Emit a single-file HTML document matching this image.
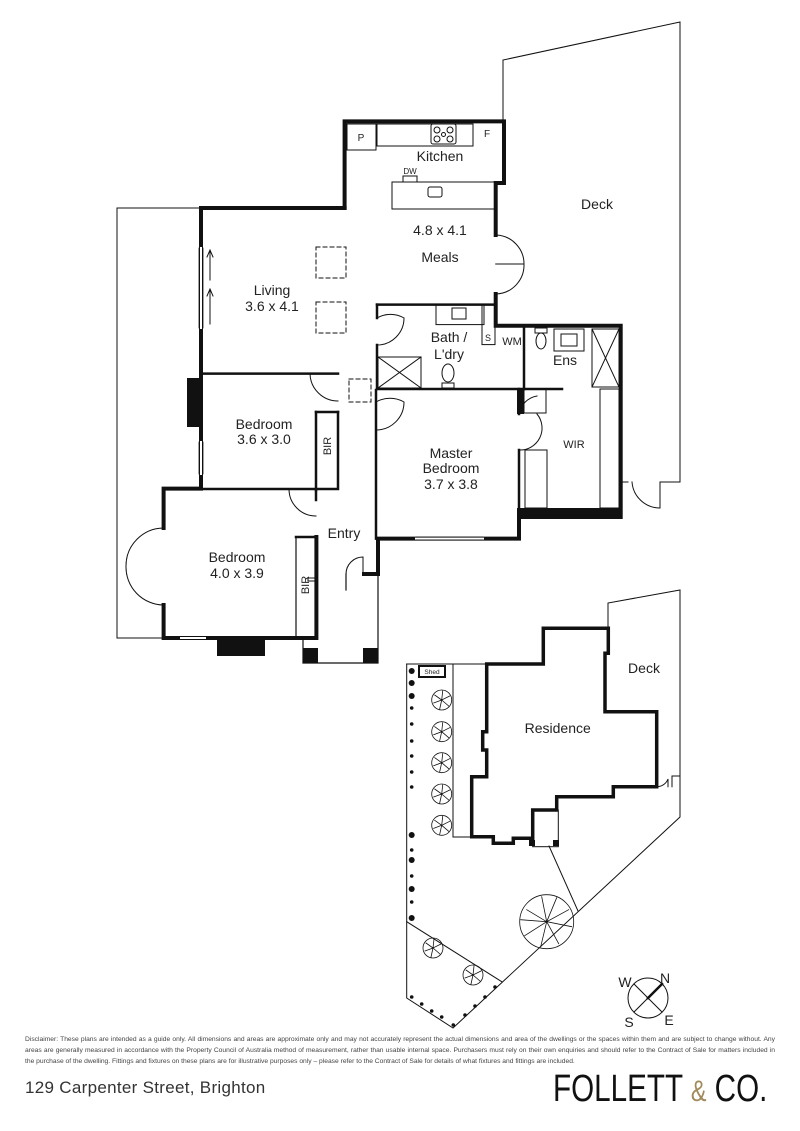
<!DOCTYPE html>
<html><head><meta charset="utf-8"><style>
body{margin:0;background:#fff;width:800px;height:1131px;overflow:hidden}
svg{position:absolute;left:0;top:0}
text{font-family:"Liberation Sans",sans-serif;fill:#222}
.disc{position:absolute;left:25px;top:1034px;width:750px;font:6.7px/11px "Liberation Sans",sans-serif;color:#444;text-align:justify;text-align-last:left}
.addr{position:absolute;left:25px;top:1078px;font:17px "Liberation Sans",sans-serif;color:#333;letter-spacing:0.3px;white-space:nowrap}
.logo{position:absolute;left:553px;top:1068px;font:38px "Liberation Sans Narrow","Liberation Sans",sans-serif;color:#111;white-space:nowrap;transform:scaleX(0.78);transform-origin:left}
.logo span{color:#a08a5a;font-size:30px}
</style></head><body>
<svg width="800" height="1131" viewBox="0 0 800 1131">
<g fill="none" stroke="#111" stroke-linecap="square">
<polyline stroke-width="1" points="503,121 503,60 680,22 680,482 660,482"/>
<path stroke-width="1" d="M660,482 V508 A28,28 0 0 1 632,482 M620,482 H628"/>
<polyline stroke-width="1" points="201,208 117,208 117,638 163,638"/>
<g stroke-width="4">
<polyline points="344.6,208 344.6,121.4 504,121.4 504,183 495.7,183 495.7,235"/>
<polyline points="495.7,294 495.7,325.7 620.7,325.7 620.7,517 519,517 519,538.6 378,538.6 378,574 364,574"/>
<polyline points="344.6,208 201,208 201,488.6 163.6,488.6 163.6,528"/>
<polyline points="163.6,605 163.6,638 316.4,638 316.4,537"/>
</g>
<g stroke="#fff" stroke-width="2"><line x1="201" y1="248" x2="201" y2="328"/><line x1="201" y1="442" x2="201" y2="474"/><line x1="416" y1="538.6" x2="483" y2="538.6"/><line x1="181" y1="638" x2="205" y2="638"/></g>
<g stroke-width="0.8"><line x1="199" y1="248" x2="199" y2="328"/><line x1="203" y1="248" x2="203" y2="328"/><line x1="199" y1="442" x2="199" y2="474"/><line x1="203" y1="442" x2="203" y2="474"/><line x1="416" y1="537" x2="483" y2="537"/><line x1="416" y1="540" x2="483" y2="540"/><line x1="181" y1="636.5" x2="205" y2="636.5"/><line x1="181" y1="639.5" x2="205" y2="639.5"/></g>
<g stroke-width="2.5">
<polyline points="201,373.6 338,373.6"/>
<polyline points="201,489 338,489 338,412"/>
<polyline points="316,412 316,490"/>
<polyline points="338,412 316,412"/>
<polyline points="376,390 376,538.6"/>
<polyline points="377,304.6 496,304.6"/>
<polyline points="377,304.6 377,318"/>
<polyline points="377,345 377,389 562,389"/>
<polyline points="524,326 524,389"/>
<polyline points="519,389 519,414"/>
<polyline points="519,450 519,518"/>
<polyline points="316,537 316,590"/>
<polyline points="296,537 316,537"/>
<polyline points="316,500 316,490"/>
</g>
<g stroke-width="1.2">
<polyline points="296,537 296,638"/>
<polyline points="303,638 303,663 378,663 378,574"/>
<polyline points="346,574 346,590"/>
</g>
<g fill="#111" stroke="none">
<rect x="187" y="378" width="14" height="49"/><rect x="217" y="638" width="48" height="18"/>
<rect x="303" y="648" width="15" height="15"/><rect x="363" y="648" width="15" height="15"/>
<rect x="517" y="389" width="7" height="25"/><rect x="517" y="508" width="104" height="10"/>
</g>
<g stroke-width="1">
<path d="M495.7,235 A29,29 0 0 1 524,264 A29,29 0 0 1 495.7,294"/>
<path d="M495.7,264 H524"/>
<path d="M377,318 A27,27 0 0 1 404,318 M377,345 A27,27 0 0 0 404,318"/>
<path d="M310,373.6 A28,28 0 0 0 338,401"/>
<path d="M376,402 A28,28 0 0 1 404,402 A28,28 0 0 1 376,430"/>
<path d="M289,489 A27,27 0 0 0 316,516"/>
<path d="M163.6,528 A38,38 0 0 0 126,566 A38,38 0 0 0 163.6,605"/>
<path d="M346,574 A17,17 0 0 1 363,557 V574"/>
<path d="M519,414 A22,22 0 0 1 537,396 M519,450 A22,22 0 0 0 537,414"/>
<path d="M316,578 h-8 v3 h8"/>
</g>
<g stroke-width="1">
<rect x="347" y="124" width="29" height="26"/>
<rect x="377" y="124" width="96" height="22"/>
<rect x="431" y="124" width="25" height="20" rx="2"/>
<circle cx="437" cy="130" r="3"/><circle cx="450" cy="130" r="3"/><circle cx="437" cy="139" r="3"/><circle cx="450" cy="139" r="3"/><circle cx="443.5" cy="134.5" r="2"/>
<rect x="392" y="182" width="104" height="27"/>
<rect x="403" y="176" width="14" height="6"/>
<rect x="428" y="187" width="14" height="10" rx="2"/>
<rect x="436" y="304.6" width="48" height="20"/>
<rect x="452" y="308" width="14" height="11"/>
<rect x="482" y="304.6" width="13" height="40"/>
<rect x="378" y="357" width="43" height="31"/>
<path d="M378,357 L421,388 M421,357 L378,388"/>
<ellipse cx="448" cy="373" rx="6" ry="9"/><rect x="442" y="383" width="12" height="5"/>
<ellipse cx="541" cy="341" rx="5" ry="8"/><rect x="535" y="328" width="12" height="5"/>
<rect x="554" y="329" width="30" height="22"/><rect x="561" y="334" width="16" height="12"/>
<rect x="592" y="329" width="27" height="58"/><path d="M592,329 L619,387 M619,329 L592,387"/>
<rect x="524" y="389" width="22" height="24"/>
<rect x="525" y="450" width="22" height="58"/>
<rect x="600" y="389" width="19" height="119"/>
<g stroke-dasharray="4,3"><rect x="316" y="247" width="30" height="31"/><rect x="316" y="302" width="30" height="31"/><rect x="349" y="379" width="22" height="23"/></g>
<path d="M210,280 V252 M207,257 L210,250 L213,257 M210,324 V291 M207,296 L210,289 L213,296"/>
</g>
<g stroke-width="1">
<polyline points="406.7,664 406.7,998 453,1028 680,817 680,590 608,603 608,628"/>
<polyline points="406.7,664 486.7,664"/>
<polyline points="453,664 453,837 471.7,837"/>
<line x1="406.7" y1="921.7" x2="501.7" y2="981.7"/>
<rect x="532.7" y="810" width="25.6" height="36.7"/>
<line x1="549" y1="846" x2="578" y2="911"/>
<path d="M658,786.7 A12,12 0 0 0 668,779 V786.7 M672,786.7 V776 H680"/>
<rect x="419" y="666" width="26" height="11" stroke-width="2"/>
</g>
<polygon stroke-width="3.5" points="486.7,664 543.3,664 543.3,628.3 608.3,628.3 608.3,653.3 605,653.3 605,711.7 656.7,711.7 656.7,786.7 613.3,786.7 613.3,796.7 556.7,796.7 556.7,810 532.7,810 532.7,838.3 513.3,838.3 513.3,843.3 493.3,843.3 493.3,836.7 471.7,836.7 471.7,776.7 486.7,776.7 486.7,750 482.7,750 482.7,731.7 486.7,731.7"/>
<g fill="#111" stroke="none"><rect x="529" y="840" width="6" height="6"/><rect x="553" y="840" width="6" height="6"/></g>
<g stroke-width="0.8">
<circle cx="546.7" cy="921.7" r="27"/>
<path d="M546.7,921.7 l-20,-12 M546.7,921.7 l-5,-25 M546.7,921.7 l10,-24 M546.7,921.7 l22,-12 M546.7,921.7 l25,5 M546.7,921.7 l12,22 M546.7,921.7 l-6,25 M546.7,921.7 l-22,14 M546.7,921.7 l-26,-2"/>
<g id="t"><circle cx="441.7" cy="700" r="10"/><path d="M441.7,700 l-7,-5 M441.7,700 l1,-9 M441.7,700 l8,-4 M441.7,700 l7,6 M441.7,700 l-2,9 M441.7,700 l-8,3"/></g>
<use href="#t" y="31.7"/><use href="#t" y="62.7"/><use href="#t" y="94"/><use href="#t" y="125.3"/>
<use href="#t" x="-8.7" y="248"/><use href="#t" x="31.3" y="275"/>
</g>
<g fill="#111" stroke="none">
<circle cx="411.7" cy="671" r="3"/><circle cx="411.7" cy="683" r="3"/><circle cx="411.7" cy="696" r="3"/>
<circle cx="411.7" cy="708" r="1.8"/><circle cx="411.7" cy="724" r="1.8"/><circle cx="411.7" cy="741" r="1.8"/><circle cx="411.7" cy="756" r="1.8"/><circle cx="411.7" cy="772" r="1.8"/><circle cx="411.7" cy="787" r="1.8"/><circle cx="411.7" cy="835" r="3"/><circle cx="411.7" cy="850" r="1.8"/><circle cx="411.7" cy="860" r="3"/><circle cx="411.7" cy="876" r="1.8"/><circle cx="411.7" cy="889" r="3"/><circle cx="411.7" cy="902" r="1.8"/><circle cx="411.7" cy="918" r="3"/>
<circle cx="411.7" cy="997" r="1.8"/><circle cx="421.7" cy="1004" r="1.8"/><circle cx="431.7" cy="1011" r="1.8"/><circle cx="441.7" cy="1017" r="1.8"/><circle cx="453.3" cy="1025" r="1.8"/><circle cx="465" cy="1015" r="1.8"/><circle cx="475" cy="1006" r="1.8"/><circle cx="485" cy="997" r="1.8"/><circle cx="495" cy="987" r="1.8"/>
</g>
<g stroke-width="1"><circle cx="648" cy="998" r="20"/><line x1="634" y1="984" x2="662" y2="1012"/><line x1="634" y1="1012" x2="662" y2="984"/><line x1="648" y1="998" x2="662" y2="984" stroke-width="2.5"/></g>
</g>
<g font-size="14" text-anchor="middle">
<text x="440" y="161">Kitchen</text><text x="440" y="235">4.8 x 4.1</text><text x="440" y="262">Meals</text>
<text x="272" y="295">Living</text><text x="272" y="311">3.6 x 4.1</text>
<text x="449" y="342">Bath /</text><text x="449" y="359">L'dry</text>
<text x="565" y="365">Ens</text>
<text x="264" y="429">Bedroom</text><text x="264" y="444">3.6 x 3.0</text>
<text x="451" y="458">Master</text><text x="451" y="473">Bedroom</text><text x="451" y="489">3.7 x 3.8</text>
<text x="344" y="538">Entry</text>
<text x="237" y="562">Bedroom</text><text x="237" y="578">4.0 x 3.9</text>
<text x="597" y="209">Deck</text>
<text x="644" y="673">Deck</text><text x="557.7" y="733">Residence</text>
<text x="625" y="987">W</text><text x="665" y="983">N</text><text x="629" y="1027">S</text><text x="669" y="1025">E</text>
</g>
<g font-size="10" text-anchor="middle">
<text x="361" y="141">P</text><text x="487" y="137">F</text><text x="410" y="174" font-size="8">DW</text>
<text x="488" y="341" font-size="9">S</text><text x="512" y="345" font-size="11">WM</text><text x="574" y="448" font-size="11">WIR</text>
<text x="432" y="674" font-size="6.5">Shed</text>
<text transform="translate(331,446) rotate(-90)" font-size="11">BIR</text>
<text transform="translate(309,585) rotate(-90)" font-size="11">BIR</text>
</g>
</svg>
<div class="disc">Disclaimer: These plans are intended as a guide only. All dimensions and areas are approximate only and may not accurately represent the actual dimensions and area of the dwellings or the spaces within them and are subject to change without. Any areas are generally measured in accordance with the Property Council of Australia method of measurement, rather than usable internal space. Purchasers must rely on their own enquiries and should refer to the Contract of Sale for matters included in the purchase of the dwelling. Fittings and fixtures on these plans are for illustrative purposes only – please refer to the Contract of Sale for details of what fixtures and fittings are included.</div>
<div class="addr">129 Carpenter Street, Brighton</div>
<div class="logo">FOLLETT <span>&amp;</span> CO.</div>
</body></html>
